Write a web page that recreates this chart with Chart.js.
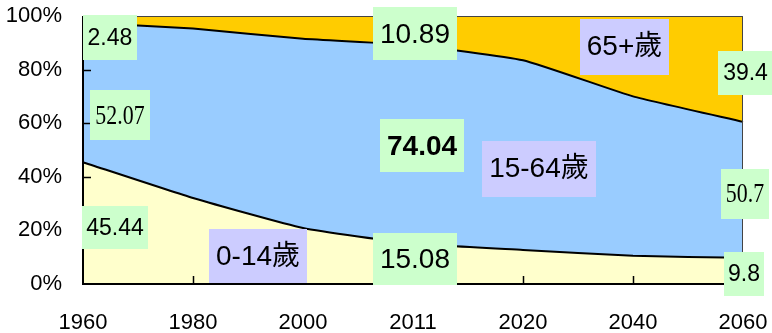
<!DOCTYPE html>
<html>
<head>
<meta charset="utf-8">
<script src="https://cdn.jsdelivr.net/npm/chart.js@4/dist/chart.umd.min.js"></script>
<style>
  html, body { margin: 0; padding: 0; background: #fff; }
  #wrap { width: 772px; height: 333px; position: relative; }
</style>
</head>
<body>
<div id="wrap"><canvas id="popChart"></canvas></div>
<script>
// population share by age group (%)
var years = ['1960', '1980', '2000', '2011', '2020', '2040', '2060'];
var young = [45.44, 32.1, 20.9, 15.08, 12.7, 10.5, 9.8];      // 0-14
var working = [52.07, 63.2, 70.6, 74.04, 70.8, 59.5, 50.7];   // 15-64
var elderly = [2.48, 4.7, 8.5, 10.89, 16.5, 30.0, 39.4];      // 65+
var yTicks = [0, 20, 40, 60, 80, 100];

var SANS = '"Liberation Sans", Arial, "Noto Sans CJK TC", sans-serif';
var SERIF = '"Liberation Serif", "Times New Roman", serif';
var GREEN = '#CCFFCC';
var LAVENDER = '#CCCCFF';

// text boxes, placed in category index / percent units (sx = horizontal squeeze)
var boxes = [
  { text: String(elderly[0]), x: 0.245, y: 91.8, w: 54, h: 45, font: '23px ' + SANS, bg: GREEN },
  { text: String(working[0]), x: 0.336, y: 62.9, w: 60, h: 50, font: '27px ' + SERIF, sx: 0.81, bg: GREEN },
  { text: String(young[0]), x: 0.291, y: 21.1, w: 66, h: 43, font: '23px ' + SANS, bg: GREEN },
  { text: '0-14歲', x: 1.591, y: 10.5, w: 98, h: 54, font: '28px ' + SANS, bg: LAVENDER },
  { text: String(elderly[3]), x: 3.018, y: 93.3, w: 84, h: 53, font: '28px ' + SANS, bg: GREEN },
  { text: String(working[3]), x: 3.082, y: 51.5, w: 84, h: 53, font: 'bold 28px ' + SANS, bg: GREEN },
  { text: '15-64歲', x: 4.145, y: 43.0, w: 114, h: 56, font: '28px ' + SANS, bg: LAVENDER },
  { text: String(young[3]), x: 3.018, y: 9.35, w: 84, h: 52, font: '28px ' + SANS, bg: GREEN },
  { text: '65+歲', x: 4.923, y: 88.6, w: 89, h: 56, font: '28px ' + SANS, bg: LAVENDER },
  { text: String(elderly[6]), x: 6.023, y: 78.9, w: 55, h: 44, font: '23px ' + SANS, bg: GREEN },
  { text: String(working[6]), x: 6.018, y: 33.6, w: 48, h: 50, font: '27px ' + SERIF, sx: 0.81, bg: GREEN },
  { text: String(young[6]), x: 6.009, y: 3.7, w: 40, h: 44, font: '23px ' + SANS, bg: GREEN }
];

// frame with inward tick marks, then the text boxes on top
var framePlugin = {
  id: 'frame',
  afterDatasetsDraw: function (chart) {
    var ctx = chart.ctx, a = chart.chartArea;
    var xs = chart.scales.x, ys = chart.scales.y;
    ctx.save();
    ctx.strokeStyle = '#444';
    ctx.lineWidth = 1;
    ctx.beginPath();
    ctx.moveTo(a.left, a.top + 0.5);
    ctx.lineTo(a.right - 0.5, a.top + 0.5);
    ctx.lineTo(a.right - 0.5, a.bottom);
    ctx.stroke();
    ctx.strokeStyle = '#000';
    ctx.lineWidth = 2;
    ctx.beginPath();
    ctx.moveTo(a.left, a.top);
    ctx.lineTo(a.left, a.bottom);
    ctx.lineTo(a.right, a.bottom);
    ctx.stroke();
    ctx.lineWidth = 1.5;
    ctx.beginPath();
    for (var i = 1; i < years.length - 1; i++) {
      var px = Math.round(xs.getPixelForValue(i)) + 0.5;
      ctx.moveTo(px, a.bottom);
      ctx.lineTo(px, a.bottom - 8);
    }
    for (var j = 1; j < yTicks.length - 1; j++) {
      var py = Math.round(ys.getPixelForValue(yTicks[j])) + 0.5;
      ctx.moveTo(a.left, py);
      ctx.lineTo(a.left + 8, py);
    }
    ctx.stroke();
    ctx.restore();
  },
  afterDraw: function (chart) {
    var ctx = chart.ctx;
    var xs = chart.scales.x, ys = chart.scales.y;
    boxes.forEach(function (b) {
      var cx = xs.getPixelForValue(b.x);
      var cy = ys.getPixelForValue(b.y);
      ctx.save();
      ctx.fillStyle = b.bg;
      ctx.fillRect(Math.round(cx - b.w / 2), Math.round(cy - b.h / 2), b.w, b.h);
      ctx.fillStyle = '#000';
      ctx.font = b.font;
      ctx.textAlign = 'center';
      ctx.textBaseline = 'middle';
      ctx.translate(cx, cy + 1);
      ctx.scale(b.sx || 1, 1);
      ctx.fillText(b.text, 0, 0);
      ctx.restore();
    });
  }
};

new Chart(document.getElementById('popChart'), {
  type: 'line',
  data: {
    labels: years,
    datasets: [{
      label: '0-14歲',
      data: young,
      fill: 'origin',
      backgroundColor: '#FFFFCC',
      borderColor: '#000',
      borderWidth: 2,
      tension: 0.15
    }, {
      label: '15-64歲',
      data: working,
      fill: '-1',
      backgroundColor: '#99CCFF',
      borderColor: '#000',
      borderWidth: 2,
      tension: 0.15
    }, {
      label: '65+歲',
      data: elderly,
      fill: '-1',
      backgroundColor: '#FFCC00',
      borderColor: '#444',
      borderWidth: 1,
      tension: 0
    }]
  },
  options: {
    responsive: true,
    maintainAspectRatio: false,
    animation: false,
    elements: { point: { radius: 0 } },
    layout: { padding: { top: 16, right: 29, left: 0, bottom: 0 } },
    plugins: {
      legend: { display: false },
      tooltip: { enabled: false }
    },
    scales: {
      x: {
        offset: false,
        grid: { display: false, drawTicks: false },
        border: { display: false },
        ticks: {
          color: '#000',
          font: { family: SANS, size: 22 },
          padding: 26,
          maxRotation: 0,
          autoSkip: false
        },
        afterFit: function (s) {
          s.height = 49;
          s.paddingLeft = 0;
          s.paddingRight = 0;
        }
      },
      y: {
        stacked: true,
        min: 0,
        max: 100,
        grid: { display: false, drawTicks: false },
        border: { display: false },
        ticks: {
          stepSize: 20,
          color: '#000',
          font: { family: SANS, size: 22 },
          padding: 21,
          callback: function (v) { return v + '%'; }
        },
        afterFit: function (s) {
          s.width = 83;
          s.paddingTop = 0;
          s.paddingBottom = 0;
        }
      }
    }
  },
  plugins: [framePlugin]
});
</script>
</body>
</html>
